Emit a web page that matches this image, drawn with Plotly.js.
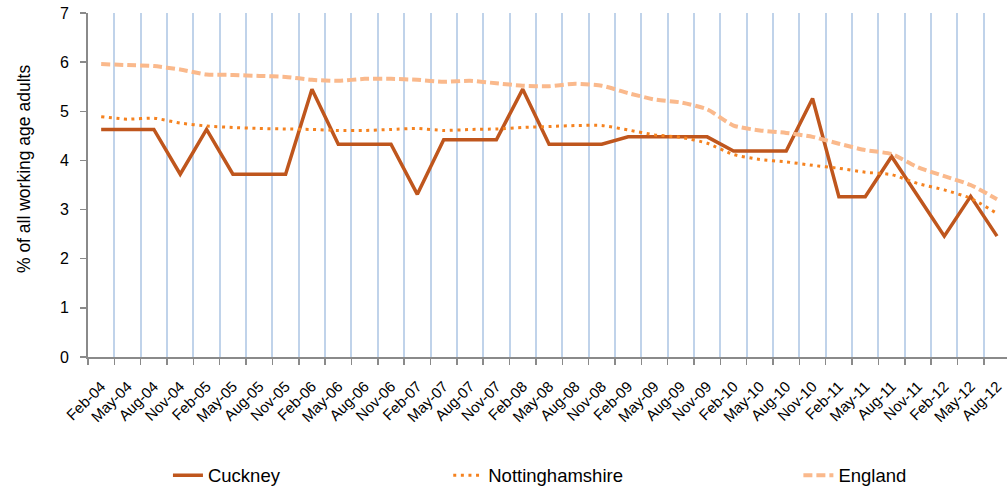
<!DOCTYPE html>
<html>
<head>
<meta charset="utf-8">
<script src="https://cdn.plot.ly/plotly-3.0.1.min.js"></script>
<style>html,body{margin:0;padding:0;background:#fff}#chart{width:1007px;height:489px}</style>
</head>
<body>
<div id="chart"></div>
<script>
const categories = ["Feb-04","May-04","Aug-04","Nov-04","Feb-05","May-05","Aug-05","Nov-05",
  "Feb-06","May-06","Aug-06","Nov-06","Feb-07","May-07","Aug-07","Nov-07",
  "Feb-08","May-08","Aug-08","Nov-08","Feb-09","May-09","Aug-09","Nov-09",
  "Feb-10","May-10","Aug-10","Nov-10","Feb-11","May-11","Aug-11","Nov-11",
  "Feb-12","May-12","Aug-12"];
const cuckney = [4.63,4.63,4.63,3.72,4.63,3.72,3.72,3.72,
  5.45,4.33,4.33,4.33,3.31,4.42,4.42,4.42,
  5.45,4.33,4.33,4.33,4.48,4.48,4.48,4.48,
  4.19,4.19,4.19,5.26,3.26,3.26,4.08,3.27,
  2.46,3.27,2.46];
const nottinghamshire = [4.89,4.84,4.86,4.76,4.70,4.67,4.65,4.64,
  4.63,4.61,4.61,4.63,4.65,4.61,4.63,4.64,
  4.67,4.69,4.71,4.71,4.62,4.52,4.47,4.35,
  4.12,4.02,3.97,3.90,3.84,3.76,3.71,3.53,
  3.40,3.23,2.92];
const england = [5.96,5.94,5.92,5.85,5.75,5.74,5.72,5.70,
  5.64,5.62,5.66,5.66,5.64,5.60,5.62,5.57,
  5.52,5.51,5.56,5.52,5.37,5.24,5.18,5.04,
  4.71,4.61,4.56,4.48,4.34,4.21,4.13,3.86,
  3.68,3.50,3.21];
const yTicks = [0,1,2,3,4,5,6,7];
const yTitle = "% of all working age adults";

const font = "Liberation Sans, Arial, sans-serif";
const traces = [
  {x: categories, y: cuckney, name: "Cuckney", type: "scatter", mode: "lines",
   line: {color: "#BF561D", width: 3.5}, legend: "legend"},
  {x: categories, y: nottinghamshire, name: "Nottinghamshire", type: "scatter", mode: "lines",
   line: {color: "#F5821F", width: 3, dash: "3px,4.6px", shape: "spline", smoothing: 0.6}, legend: "legend2"},
  {x: categories, y: england, name: "England", type: "scatter", mode: "lines",
   line: {color: "#FAB98C", width: 4, dash: "9px,4px", shape: "spline", smoothing: 0.6}, legend: "legend3"}
];
const legendBase = {orientation: "h", yanchor: "middle", y: -0.345, xanchor: "left",
  font: {family: font, size: 18.5, color: "#000"}, bgcolor: "rgba(0,0,0,0)"};
const layout = {
  width: 1007, height: 489,
  margin: {l: 88, r: 0, t: 13, b: 132, autoexpand: false},
  paper_bgcolor: "#fff", plot_bgcolor: "#fff",
  font: {family: font, color: "#000"},
  xaxis: {
    type: "category", range: [-0.5, 34.38], tickson: "boundaries",
    automargin: false,
    showgrid: true, gridcolor: "#C0D3EA", gridwidth: 2,
    showline: true, linecolor: "#8A8A8A", linewidth: 1.8,
    ticks: "outside", ticklen: 6, tickcolor: "#8A8A8A", tickwidth: 1.5,
    tickangle: -45, ticklabelstandoff: 13,
    tickfont: {family: font, size: 15, color: "#000"},
    zeroline: false, fixedrange: true
  },
  yaxis: {
    range: [0, 7], tickvals: yTicks, showgrid: false, automargin: false,
    showline: true, linecolor: "#8A8A8A", linewidth: 1.8,
    ticks: "outside", ticklen: 6, tickcolor: "#8A8A8A", tickwidth: 1.5,
    ticklabelstandoff: 8,
    tickfont: {family: font, size: 16, color: "#000"},
    zeroline: false
  },
  annotations: [{
    text: yTitle, xref: "paper", yref: "paper", x: -0.0696, y: 0.5465,
    xanchor: "center", yanchor: "middle", textangle: -90, showarrow: false,
    font: {family: font, size: 17.5, color: "#000"}
  }],
  legend: Object.assign({}, legendBase, {x: 0.087}),
  legend2: Object.assign({}, legendBase, {x: 0.392}),
  legend3: Object.assign({}, legendBase, {x: 0.773}),
  showlegend: true
};
Plotly.newPlot("chart", traces, layout, {displayModeBar: false, staticPlot: true});
</script>
</body>
</html>
